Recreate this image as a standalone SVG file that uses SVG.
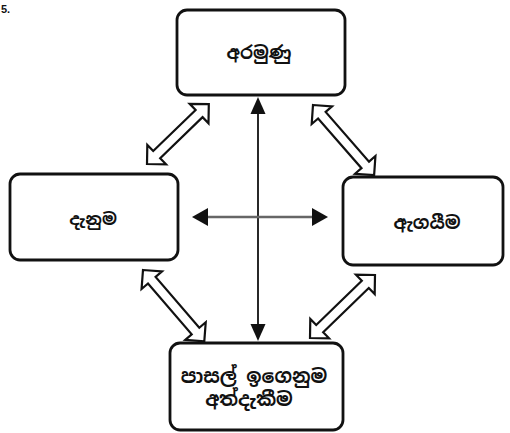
<svg xmlns="http://www.w3.org/2000/svg" width="510" height="433" viewBox="0 0 510 433">
<style>
.box{fill:#fff;stroke:#111;stroke-width:2.8}
.lbl{font-family:"Noto Sans Sinhala","Noto Sans","DejaVu Sans",sans-serif;font-weight:bold;fill:#111;text-anchor:middle;dominant-baseline:central}
.blk{fill:#fff;stroke:#111;stroke-width:2.2;stroke-linejoin:miter}
.ln{stroke:#111;stroke-width:1.8}
.hl{stroke:#666;stroke-width:2.5}
.hd{fill:#111}
</style>
<rect width="510" height="433" fill="#fff"/>
<text x="1" y="13" style="font-family:'Liberation Sans',sans-serif;font-size:11px;font-weight:bold;fill:#111">5.</text>
<g id="connectors">
<path class="blk" transform="translate(147,164) rotate(-44.06)" d="M0,0 L13.5,-13.5 L13.5,-5 L72.5,-5 L72.5,-13.5 L86,0 L72.5,13.5 L72.5,5 L13.5,5 L13.5,13.5 Z"/>
<path class="blk" transform="translate(313,105) rotate(48.9)" d="M0,0 L13.5,-13.5 L13.5,-5 L79.5,-5 L79.5,-13.5 L93,0 L79.5,13.5 L79.5,5 L13.5,5 L13.5,13.5 Z"/>
<path class="blk" transform="translate(143,270) rotate(49.3)" d="M0,0 L13.5,-13.5 L13.5,-5 L80.5,-5 L80.5,-13.5 L94,0 L80.5,13.5 L80.5,5 L13.5,5 L13.5,13.5 Z"/>
<path class="blk" transform="translate(310,338) rotate(-44.1)" d="M0,0 L13.5,-13.5 L13.5,-5 L77,-5 L77,-13.5 L90.5,0 L77,13.5 L77,5 L13.5,5 L13.5,13.5 Z"/>
<line class="ln" x1="258" y1="110" x2="258" y2="328"/>
<polygon class="hd" points="258,97 250.5,114 265.5,114"/>
<polygon class="hd" points="258,341 250.5,324 265.5,324"/>
<line class="hl" x1="205" y1="217" x2="315" y2="217"/>
<polygon class="hd" points="192,217 208,208 208,226"/>
<polygon class="hd" points="328,217 312,208 312,226"/>
</g>
<g id="node-top">
<rect class="box" x="177" y="10" width="168" height="85" rx="10"/>
<text class="lbl" x="259" y="52" font-size="18">අරමුණු</text>
</g>
<g id="node-left">
<rect class="box" x="10" y="174" width="168" height="86" rx="10"/>
<text class="lbl" x="93" y="219" font-size="17">දැනුම</text>
</g>
<g id="node-right">
<rect class="box" x="343" y="177" width="160" height="88" rx="10"/>
<text class="lbl" x="427" y="222" font-size="18">ඇගයීම</text>
</g>
<g id="node-bottom">
<rect class="box" x="170" y="343" width="173" height="87" rx="10"/>
<text class="lbl" x="254" y="376" font-size="19">පාසල් ඉගෙනුම</text>
<text class="lbl" x="249" y="399" font-size="19">අත්දැකීම</text>
</g>
</svg>
